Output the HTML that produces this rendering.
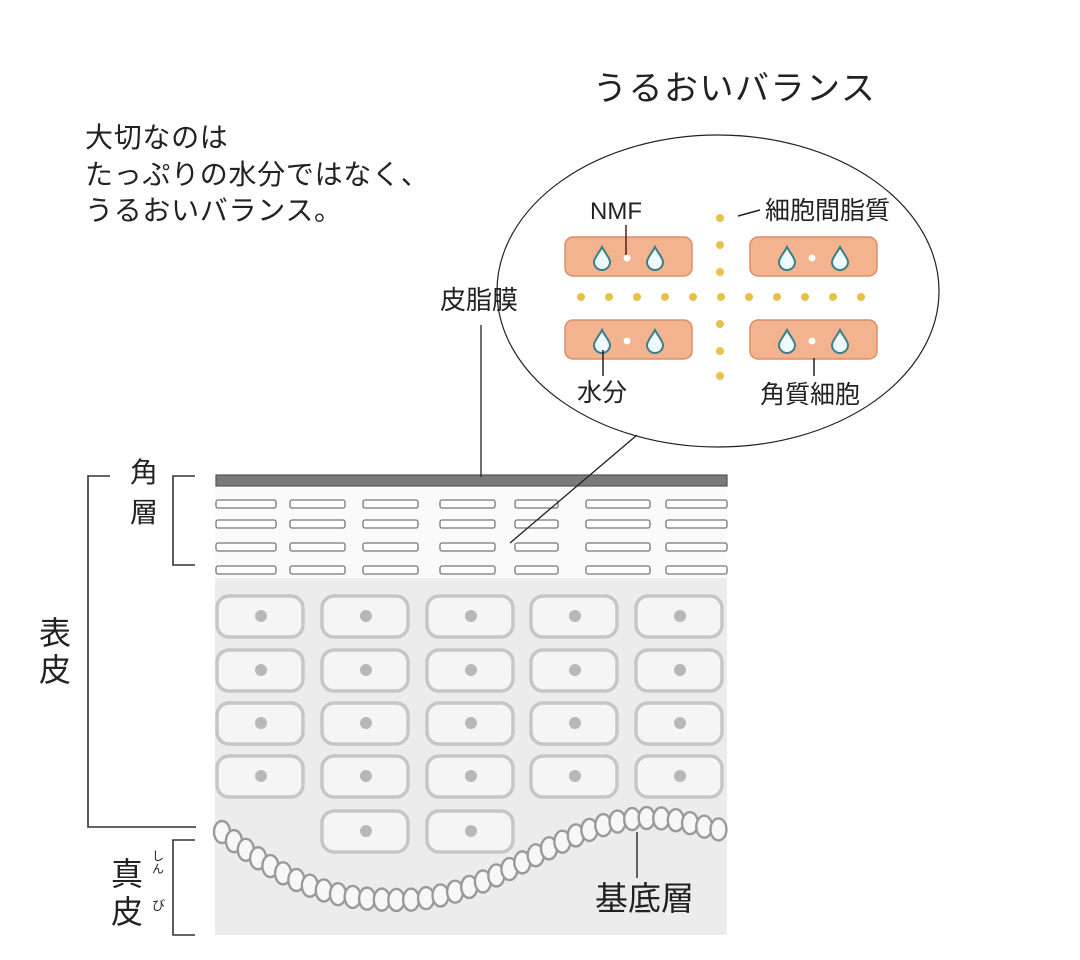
<!DOCTYPE html>
<html><head><meta charset="utf-8"><style>
html,body{margin:0;padding:0;background:#fff;}
svg{display:block;}
text{font-family:"Liberation Sans","Noto Sans CJK JP",sans-serif;fill:#222;}
</style></head><body>
<svg id="s" width="1080" height="960" viewBox="0 0 1080 960" xmlns="http://www.w3.org/2000/svg">
<rect width="1080" height="960" fill="#fff"/>
<text x="593" y="100" font-size="34" letter-spacing="1.5">うるおいバランス</text>
<text x="85" y="147" font-size="28" letter-spacing="0.7">大切なのは</text>
<text x="85" y="184" font-size="28" letter-spacing="0.7">たっぷりの水分ではなく、</text>
<text x="85" y="220" font-size="28" letter-spacing="0.7">うるおいバランス。</text>

<ellipse cx="718" cy="291" rx="221" ry="156" fill="#fff" stroke="#222" stroke-width="1.2"/>
<g id="cells"></g>
<g fill="#e8c04a" id="dots"></g>
<line x1="626" y1="225" x2="626" y2="255" stroke="#5a1a1a" stroke-width="1.5"/>
<line x1="603" y1="350" x2="603" y2="376" stroke="#222" stroke-width="1.5"/>
<line x1="814" y1="358" x2="814" y2="376" stroke="#222" stroke-width="1.5"/>
<line x1="738" y1="216" x2="760" y2="210" stroke="#222" stroke-width="1.5"/>
<text x="590" y="219" font-size="24">NMF</text>
<text x="765" y="219" font-size="25">細胞間脂質</text>
<text x="577" y="401" font-size="25">水分</text>
<text x="760" y="403" font-size="25">角質細胞</text>
<text x="440" y="309" font-size="26">皮脂膜</text>

<rect x="215" y="578" width="512" height="357" fill="#ececec"/>
<rect x="215" y="486" width="512" height="92" fill="#fafafa"/>
<rect x="216" y="475" width="511" height="11" fill="#7a7a7a" stroke="#555" stroke-width="1.2"/>
<g id="flat" fill="#fff" stroke="#777" stroke-width="1.3"></g>
<g id="ep" fill="#f5f5f5" stroke="#c6c6c6" stroke-width="3.5"></g>
<g id="wave" fill="#f7f7f7" stroke="#9a9a9a" stroke-width="2.4"></g>

<line x1="481" y1="325" x2="481" y2="477" stroke="#222" stroke-width="1.3"/>
<line x1="637" y1="435" x2="510" y2="543" stroke="#222" stroke-width="1.3"/>
<line x1="637" y1="832" x2="637" y2="878" stroke="#333" stroke-width="1.5"/>
<text x="595" y="910" font-size="33">基底層</text>

<g fill="none" stroke="#333" stroke-width="1.6">
<polyline points="110,476 88,476 88,827 196,827"/>
<polyline points="195,476 173,476 173,565 195,565"/>
<polyline points="195,840 173,840 173,935 195,935"/>
</g>
<text x="130" y="482" font-size="28">角</text>
<text x="130" y="522" font-size="28">層</text>
<text x="39" y="644" font-size="32">表</text>
<text x="39" y="681" font-size="32">皮</text>
<text x="111" y="885" font-size="32">真</text>
<text x="111" y="923" font-size="32">皮</text>
<text x="152" y="860" font-size="12">し</text>
<text x="152" y="873" font-size="12">ん</text>
<text x="152" y="910" font-size="13">び</text>
</svg>
<script>
var NS="http://www.w3.org/2000/svg";
function el(p,t,a){var e=document.createElementNS(NS,t);for(var k in a)e.setAttribute(k,a[k]);document.getElementById(p).appendChild(e);return e;}
[[565,237],[750,237],[565,320],[750,320]].forEach(function(c){
 el("cells","rect",{x:c[0],y:c[1],width:127,height:39,rx:8,fill:"#f2b38e",stroke:"#d9906a","stroke-width":1.5});
 var cy=c[1]+21;
 [c[0]+37,c[0]+90].forEach(function(x){
  el("cells","path",{d:"M"+x+" "+(cy-11)+" C"+(x+3)+" "+(cy-5)+" "+(x+8)+" "+(cy)+" "+(x+8)+" "+(cy+4)+" A8 8 0 0 1 "+(x-8)+" "+(cy+4)+" C"+(x-8)+" "+cy+" "+(x-3)+" "+(cy-5)+" "+x+" "+(cy-11)+"Z",fill:"#eefafc",stroke:"#3b7f88","stroke-width":2});
 });
 el("cells","circle",{cx:c[0]+62,cy:cy,r:3.5,fill:"#fff"});
});
for(var i=0;i<11;i++)el("dots","circle",{cx:581+i*28,cy:297,r:4});
[218,245,272,324,351,376].forEach(function(y){el("dots","circle",{cx:720,cy:y,r:4});});
var cols=[[216,276],[290,345],[363,418],[440,495],[515,558],[586,650],[666,727]];
[500,520,543,566].forEach(function(y){cols.forEach(function(c){el("flat","rect",{x:c[0],y:y,width:c[1]-c[0],height:8,rx:2});});});
var ex=[217,322,427,531,636];
[596,650,703,756].forEach(function(y){ex.forEach(function(x){
 el("ep","rect",{x:x,y:y,width:86,height:41,rx:12});
 el("ep","circle",{cx:x+44,cy:y+20,r:6,fill:"#b8b8b8",stroke:"none"});
});});
[322,427].forEach(function(x){el("ep","rect",{x:x,y:811,width:86,height:41,rx:12});el("ep","circle",{cx:x+44,cy:831,r:6,fill:"#b8b8b8",stroke:"none"});});
function cub(p,t){var u=1-t;return[u*u*u*p[0][0]+3*u*u*t*p[1][0]+3*u*t*t*p[2][0]+t*t*t*p[3][0],u*u*u*p[0][1]+3*u*u*t*p[1][1]+3*u*t*t*p[2][1]+t*t*t*p[3][1]];}
var segs=[[[222,832],[290,885],[330,900],[400,900]],[[400,900],[500,900],[560,818],[650,818]],[[650,818],[685,818],[705,830],[727,830]]];
var pts=[];segs.forEach(function(s){for(var i=0;i<=400;i++)pts.push(cub(s,i/400));});
var last=pts[0],acc=0;el("wave","ellipse",{cx:last[0],cy:last[1],rx:8,ry:11});
for(var i=1;i<pts.length;i++){var d=Math.hypot(pts[i][0]-pts[i-1][0],pts[i][1]-pts[i-1][1]);acc+=d;if(acc>=14.5){acc=0;el("wave","ellipse",{cx:pts[i][0],cy:pts[i][1],rx:8,ry:11});}}
</script>
</body></html>
